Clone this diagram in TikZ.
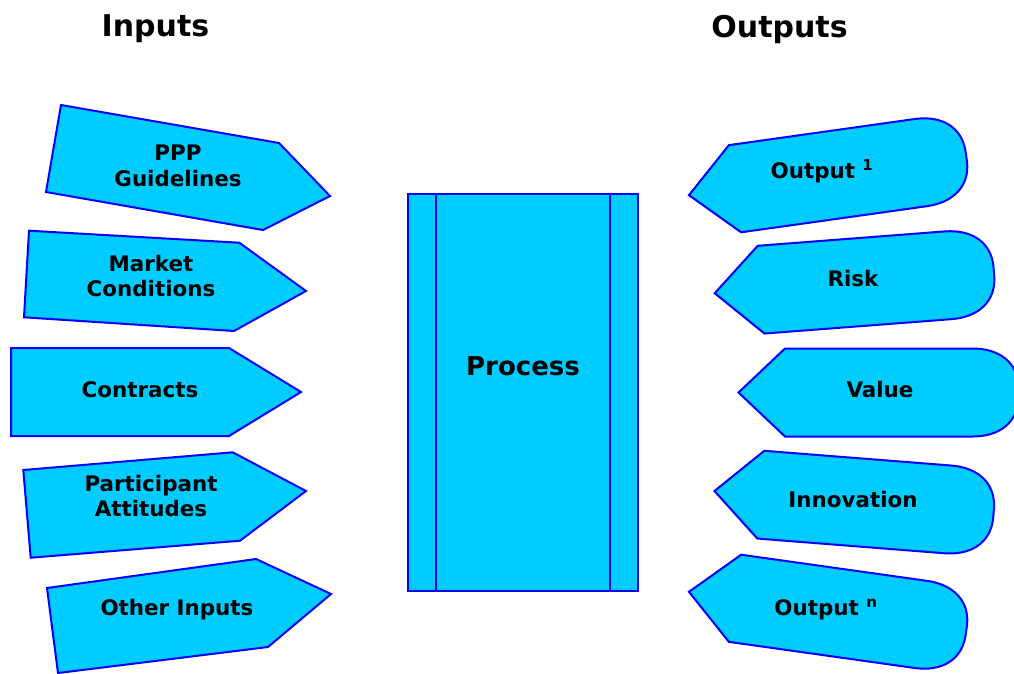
\documentclass[tikz,border=0pt]{standalone}
\usepackage{fontspec}
\setmainfont{DejaVu Sans}
\definecolor{boxfill}{HTML}{00CCFF}
\definecolor{boxline}{HTML}{0000FF}
\tikzset{
  shapebox/.style={fill=boxfill, draw=boxline, line width=2pt, line join=miter},
  lbl/.style={font=\fontsize{21.4}{25.5}\selectfont\bfseries, align=center, inner sep=0pt},
  ttl/.style={font=\fontsize{30}{34}\selectfont\bfseries, inner sep=0pt},
  outshape/.pic={
    \path[shapebox] (-140,0) -- (-93.5,-44) -- (94,-44)
      .. controls (121,-44) and (139,-30) .. (140,-6)
      -- (140,6)
      .. controls (139,30) and (121,44) .. (94,44)
      -- (-93.5,44) -- cycle;
  }
}
\begin{document}
\begin{tikzpicture}[x=1pt,y=-1pt]
\useasboundingbox (0,0) rectangle (1014,673);
% titles
\node[ttl] (tin) at (155.5,29) {Inputs};
\node[ttl] (tout) at (779.5,29) {Outputs};
% input shapes
\path[shapebox] (61,105) -- (279,143) -- (330,196) -- (263,230) -- (46,192) -- cycle;
\path[shapebox] (29,230.7) -- (239.3,242.7) -- (306,291) -- (234,331) -- (24,317.3) -- cycle;
\path[shapebox] (11,348) -- (229,348) -- (301,392) -- (229,436) -- (11,436) -- cycle;
\path[shapebox] (23.3,470) -- (232.7,452.3) -- (306,491) -- (240,540.7) -- (30.7,557.7) -- cycle;
\path[shapebox] (47,588) -- (256,559) -- (331,594) -- (268,647) -- (58,673) -- cycle;
\node[lbl] (ppp) at (178,166) {PPP\\Guidelines};
\node[lbl] (mkt) at (151,276) {Market\\Conditions};
\node[lbl] (con) at (140,389.5) {Contracts};
\node[lbl] (par) at (151,496) {Participant\\Attitudes};
\node[lbl] (oth) at (177,609.5) {Other Inputs};
% process
\path[shapebox] (408,194) rectangle (638,591);
\draw[boxline, line width=2pt] (436,194) -- (436,591);
\draw[boxline, line width=2pt] (610,194) -- (610,591);
\node[font=\fontsize{26}{30}\selectfont\bfseries, inner sep=0pt] (proc) at (523,366) {Process};
% output shapes
\pic[shift={(827.6,175.7)}, rotate=8] {outshape};
\pic[shift={(854.3,282.5)}, rotate=4.4] {outshape};
\pic[shift={(878.5,392.5)}] {outshape};
\pic[shift={(854,502)}, rotate=-4.5] {outshape};
\pic[shift={(827.6,611.3)}, rotate=-8] {outshape};
\node[lbl] (o1) at (822,171.5) {Output \textsuperscript{1}};
\node[lbl] (risk) at (853,278.5) {Risk};
\node[lbl] (val) at (880,389.5) {Value};
\node[lbl] (inn) at (853,499.5) {Innovation};
\node[lbl] (on) at (826,609.5) {Output \textsuperscript{n}};
\end{tikzpicture}
\end{document}
